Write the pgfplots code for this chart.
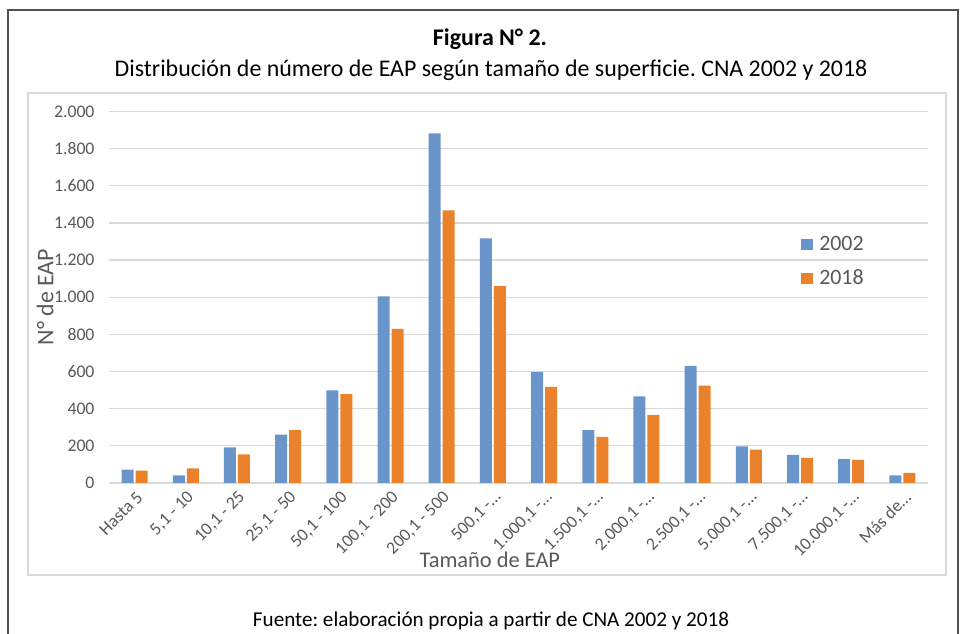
\documentclass[border=0pt]{standalone}
\usepackage{fontspec}
\setmainfont{Carlito}
\usepackage{pgfplots}
\pgfplotsset{compat=1.18}
\frenchspacing
\definecolor{cblue}{RGB}{106,149,203}
\definecolor{corange}{RGB}{233,130,42}
\definecolor{tgray}{RGB}{89,89,89}
\definecolor{ggray}{RGB}{217,217,217}
\definecolor{fgray}{RGB}{80,80,80}
\pgfplotstableread{
x y2002 y2018
0 72 66
1 41 79
2 192 154
3 260 285
4 499 479
5 1004 829
6 1882 1467
7 1317 1060
8 597 517
9 285 248
10 466 366
11 630 524
12 197 179
13 152 135
14 129 124
15 41 54
}\datatable
\begin{document}
\begin{tikzpicture}
\useasboundingbox (0,0) rectangle (962bp,634bp);
\draw[fgray, line width=1.5bp] (8bp,0) -- (8bp,624bp) -- (958bp,624bp) -- (958bp,0);
\draw[ggray, line width=1.5bp] (28bp,59bp) rectangle (946bp,541bp);
\node[font=\fontsize{24}{28}\selectfont\bfseries] at (490bp,595bp) {Figura N° 2.};
\node[font=\fontsize{24}{28}\selectfont] at (491bp,564bp) {Distribución de número de EAP según tamaño de superficie. CNA 2002 y 2018};
\node[font=\fontsize{21.2}{25}\selectfont] at (491bp,13bp) {Fuente: elaboración propia a partir de CNA 2002 y 2018};
\begin{axis}[
  at={(109bp,151bp)}, anchor=south west,
  scale only axis, width=819bp, height=371.6bp,
  ybar=2bp, bar width=12bp,
  ymin=0, ymax=2000, xmin=-0.5, xmax=15.5,
  xtick={0,...,15},
  xticklabels={Hasta 5, {5,1 - 10}, {10,1 - 25}, {25,1 - 50}, {50,1 - 100}, {100,1 - 200}, {200,1 - 500}, {500,1 -…}, {1.000,1 -…}, {1.500,1 -…}, {2.000,1 -…}, {2.500,1 -…}, {5.000,1 -…}, {7.500,1 -…}, {10.000,1 -…}, {Más de…}},
  ytick={0,200,...,2000},
  /pgf/number format/1000 sep={.},
  /pgf/number format/assume math mode=true,
  ymajorgrids,
  grid style={ggray, line width=1.3bp},
  axis lines*=left,
  y axis line style={draw=none},
  x axis line style={ggray, line width=1.3bp, -},
  major tick length=0pt,
  tick style={draw=none},
  ticklabel style={font=\fontsize{17.8}{21}\selectfont, text=tgray},
  yticklabel style={anchor=east, xshift=-11bp},
  xticklabel style={rotate=45, anchor=east, xshift=-1bp, yshift=-12bp},
  ylabel={N° de EAP},
  xlabel={Tamaño de EAP},
  ylabel style={font=\fontsize{24}{28}\selectfont, text=tgray, at={(axis description cs:-0.078,0.5)}, anchor=center, rotate=0},
  xlabel style={font=\fontsize{22.5}{26}\selectfont, text=tgray, at={(axis description cs:0.465,-0.207)}, anchor=center},
  legend style={draw=none, fill=none, at={(axis description cs:0.845,0.67)}, anchor=north west,
    font=\fontsize{22}{26}\selectfont, text=tgray, row sep=14bp, inner sep=0pt,
    nodes={inner xsep=6bp}},
  legend cell align=left,
  legend image code/.code={\fill[#1] (0bp,-5.5bp) rectangle (12bp,5.5bp);},
]
\addplot[fill=cblue, draw=none] table[x=x, y=y2002] {\datatable};
\addplot[fill=corange, draw=none] table[x=x, y=y2018] {\datatable};
\legend{2002, 2018}
\end{axis}
\end{tikzpicture}
\end{document}
